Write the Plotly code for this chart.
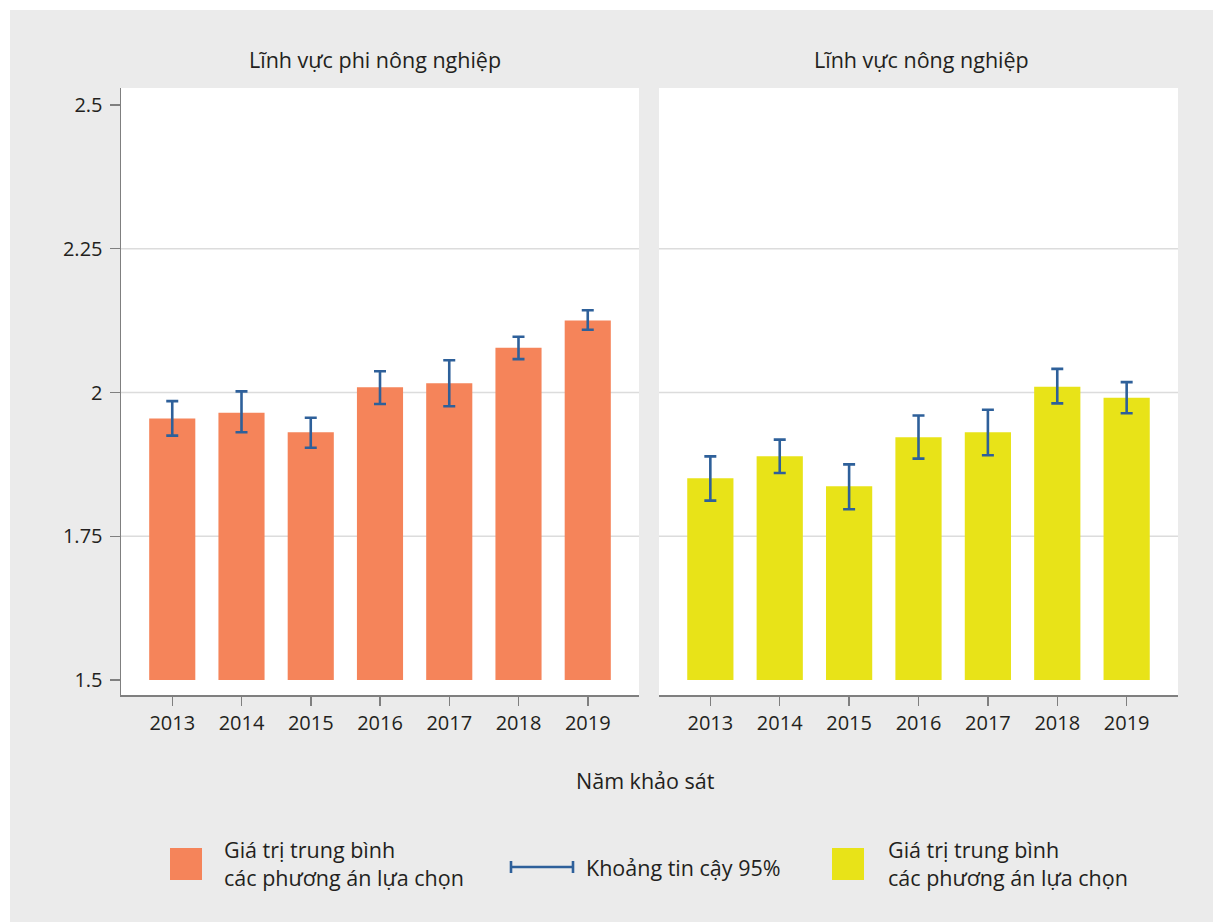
import plotly.graph_objects as go

# ---------------- data ----------------
years = ["2013", "2014", "2015", "2016", "2017", "2018", "2019"]

nonagri_mean = [1.955, 1.965, 1.931, 2.009, 2.016, 2.078, 2.125]
nonagri_hi = [1.985, 2.002, 1.956, 2.037, 2.056, 2.097, 2.143]
nonagri_lo = [1.925, 1.931, 1.904, 1.980, 1.976, 2.058, 2.109]

agri_mean = [1.851, 1.889, 1.837, 1.922, 1.931, 2.010, 1.991]
agri_hi = [1.889, 1.918, 1.875, 1.960, 1.970, 2.041, 2.018]
agri_lo = [1.812, 1.860, 1.797, 1.885, 1.891, 1.981, 1.964]

y_tickvals = [1.5, 1.75, 2, 2.25, 2.5]
y_ticktext = ["1.5", "1.75", "2", "2.25", "2.5"]
grid_vals = [1.75, 2, 2.25]
bar_base = 1.5

panel_titles = ["Lĩnh vực phi nông nghiệp", "Lĩnh vực nông nghiệp"]
x_title = "Năm khảo sát"
legend_bar_text = "Giá trị trung bình<br>các phương án lựa chọn"
legend_ci_text = "Khoảng tin cậy 95%"

# ---------------- style ----------------
W, H = 1213, 922
ML, MR, MT, MB = 121, 35, 88, 227
PW, PH = W - ML - MR, H - MT - MB
ORANGE = "#F5845A"
YELLOW = "#E8E318"
BLUE = "#2E609A"
BG = "#EBEBEB"
GRID = "#DCDCDC"
AXIS = "#7F7F7F"
TXT = "#231F20"
FONT = "Open Sans"
FS = 20
FS_T = 21.5


def px(x):
    return (x - ML) / PW


def py(y):
    return (H - MB - y) / PH


fig = go.Figure()

panels = [
    (nonagri_mean, nonagri_hi, nonagri_lo, ORANGE, "x", "y"),
    (agri_mean, agri_hi, agri_lo, YELLOW, "x2", "y2"),
]
for means, hi, lo, col, xa, ya in panels:
    fig.add_trace(go.Bar(
        x=years, y=[m - bar_base for m in means], base=bar_base,
        marker=dict(color=col, line=dict(width=0)),
        xaxis=xa, yaxis=ya, showlegend=False, hoverinfo="skip",
    ))
    fig.add_trace(go.Scatter(
        x=years, y=means, mode="markers",
        marker=dict(size=1, color="rgba(0,0,0,0)"),
        error_y=dict(type="data", symmetric=False,
                     array=[h - m for h, m in zip(hi, means)],
                     arrayminus=[m - l for m, l in zip(means, lo)],
                     color=BLUE, thickness=2.6, width=6),
        xaxis=xa, yaxis=ya, showlegend=False, hoverinfo="skip",
    ))

yrange = [1.5 - 15 / 576, 2.5 + 17 / 576]
xrange = [-0.74, 6.74]
dom1 = [0, px(639)]
dom2 = [px(659), 1]

xcommon = dict(type="category", range=xrange, showline=True, linecolor=AXIS,
               linewidth=1.5, ticks="outside", ticklen=9, tickwidth=1.5,
               tickcolor=AXIS, showgrid=False, zeroline=False,
               tickfont=dict(family=FONT, size=FS, color=TXT))

fig.update_layout(
    width=W, height=H,
    margin=dict(l=ML, r=MR, t=MT, b=MB, pad=0),
    paper_bgcolor=BG, plot_bgcolor="white",
    bargap=0.334,
    showlegend=False,
    font=dict(family=FONT, size=FS_T, color=TXT),
    xaxis=dict(domain=dom1, anchor="y", **xcommon),
    xaxis2=dict(domain=dom2, anchor="y2", **xcommon),
    yaxis=dict(range=yrange, tickvals=y_tickvals, ticktext=y_ticktext,
               showline=True, linecolor=AXIS, linewidth=1.5,
               ticks="outside", ticklen=10, tickwidth=1.5, tickcolor=AXIS,
               ticklabelstandoff=3,
               showgrid=False, zeroline=False, anchor="x",
               tickfont=dict(family=FONT, size=FS, color=TXT)),
    yaxis2=dict(range=yrange, matches="y", showticklabels=False, ticks="",
                showline=False, showgrid=False, zeroline=False, anchor="x2"),
)

shapes = []
# grid lines
for ya, xa in [("y", "x"), ("y2", "x2")]:
    for g in grid_vals:
        shapes.append(dict(type="line", xref=f"{xa} domain", yref=ya,
                           x0=0, x1=1, y0=g, y1=g, layer="below",
                           line=dict(color=GRID, width=1.5)))
# white outer margin (top/left)
shapes.append(dict(type="rect", xref="paper", yref="paper",
                   x0=px(-10), x1=px(10), y0=py(H + 10), y1=py(-10),
                   fillcolor="white", line=dict(width=0), layer="above"))
shapes.append(dict(type="rect", xref="paper", yref="paper",
                   x0=px(-10), x1=px(W + 10), y0=py(10), y1=py(-10),
                   fillcolor="white", line=dict(width=0), layer="above"))
# custom legend symbols
shapes.append(dict(type="rect", xref="paper", yref="paper",
                   x0=px(170), x1=px(202), y0=py(880), y1=py(848),
                   fillcolor=ORANGE, line=dict(width=0)))
shapes.append(dict(type="rect", xref="paper", yref="paper",
                   x0=px(832), x1=px(864), y0=py(880), y1=py(848),
                   fillcolor=YELLOW, line=dict(width=0)))
shapes.append(dict(type="line", xref="paper", yref="paper",
                   x0=px(511), x1=px(573), y0=py(867), y1=py(867),
                   line=dict(color=BLUE, width=2.6)))
for xx in (511, 573):
    shapes.append(dict(type="line", xref="paper", yref="paper",
                       x0=px(xx), x1=px(xx), y0=py(861), y1=py(873),
                       line=dict(color=BLUE, width=2.6)))
fig.update_layout(shapes=shapes)

ann = []
ann.append(dict(text=panel_titles[0], x=px(375), y=py(60), xref="paper",
                yref="paper", showarrow=False, xanchor="center", yanchor="middle"))
ann.append(dict(text=panel_titles[1], x=px(921), y=py(60), xref="paper",
                yref="paper", showarrow=False, xanchor="center", yanchor="middle"))
ann.append(dict(text=x_title, x=px(645), y=py(780), xref="paper",
                yref="paper", showarrow=False, xanchor="center", yanchor="middle"))
ann.append(dict(text=legend_bar_text, x=px(222), y=py(863), xref="paper",
                yref="paper", showarrow=False, xanchor="left", yanchor="middle",
                align="left"))
ann.append(dict(text=legend_ci_text, x=px(584), y=py(867), xref="paper",
                yref="paper", showarrow=False, xanchor="left", yanchor="middle",
                align="left"))
ann.append(dict(text=legend_bar_text, x=px(886), y=py(863), xref="paper",
                yref="paper", showarrow=False, xanchor="left", yanchor="middle",
                align="left"))
fig.update_layout(annotations=ann)

fig.write_html(
    "out.html",
    config={"displayModeBar": False, "staticPlot": True},
    post_script=(
        "document.body.style.margin='0';"
        "document.body.style.overflow='hidden';"
        "document.body.style.background='" + BG + "';"
        "document.documentElement.style.background='" + BG + "';"
    ),
)
